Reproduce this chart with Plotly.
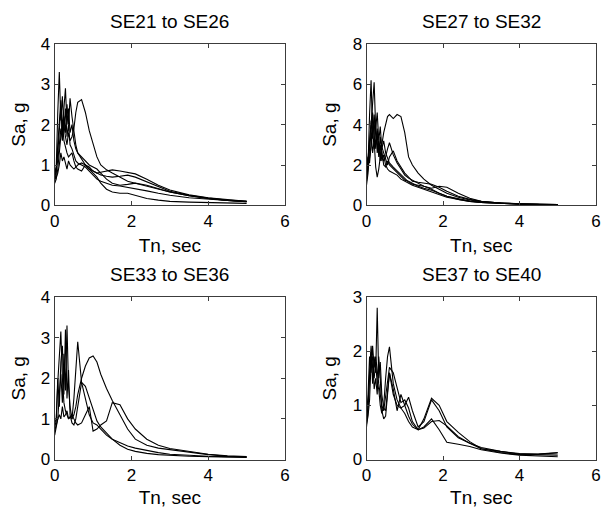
import plotly.graph_objects as go

# Periods (sec)
periods = [0.0, 0.04, 0.08, 0.12, 0.16, 0.2, 0.24, 0.28, 0.32, 0.36, 0.4, 0.45, 0.5, 0.55, 0.6,
           0.7, 0.8, 0.9, 1.0, 1.1, 1.2, 1.35, 1.5, 1.7, 1.9, 2.1, 2.4, 2.7, 3.0, 3.5, 4.0, 4.5, 5.0]

# SE21 to SE26
se21_26 = [
    [0.75, 0.95, 2.3, 3.3, 2.1, 2.7, 1.9, 2.4, 1.7, 2.0, 1.5, 1.4, 1.25, 1.1, 1.05, 1.0, 0.95, 0.85, 0.75, 0.65, 0.6, 0.55, 0.5, 0.48, 0.45, 0.42, 0.36, 0.3, 0.25, 0.19, 0.15, 0.12, 0.1],
    [0.6, 0.8, 1.5, 2.2, 2.6, 1.9, 2.5, 2.9, 2.0, 2.4, 1.8, 2.0, 1.6, 1.4, 1.3, 1.15, 1.0, 0.9, 0.85, 0.8, 0.75, 0.72, 0.7, 0.72, 0.75, 0.7, 0.58, 0.45, 0.35, 0.25, 0.18, 0.13, 0.1],
    [0.7, 0.85, 1.3, 1.9, 2.4, 1.7, 2.2, 1.8, 2.5, 2.0, 2.65, 2.2, 1.8, 1.5, 1.3, 1.2, 1.1, 1.0, 0.95, 0.9, 0.8, 0.65, 0.55, 0.5, 0.52, 0.55, 0.5, 0.42, 0.33, 0.24, 0.17, 0.12, 0.09],
    [0.8, 0.95, 1.1, 1.5, 1.9, 1.6, 2.0, 1.7, 1.5, 1.8, 1.6, 1.7, 1.9, 2.3, 2.55, 2.62, 2.3, 1.85, 1.5, 1.2, 1.0, 0.88, 0.8, 0.7, 0.6, 0.55, 0.48, 0.4, 0.33, 0.24, 0.17, 0.12, 0.09],
    [0.65, 0.7, 0.8, 1.0, 1.3, 1.1, 1.2, 1.0, 0.9, 1.1, 1.0, 0.95, 0.9, 0.95, 1.0, 1.05, 1.0, 0.9, 0.8, 0.7, 0.55, 0.4, 0.33, 0.3, 0.3, 0.25, 0.17, 0.13, 0.1, 0.08, 0.07, 0.06, 0.05],
    [0.55, 0.65, 0.9, 1.3, 1.7, 2.1, 1.6, 1.4, 1.3, 1.2, 1.25, 1.3, 1.1, 0.95, 0.9, 0.85, 1.0, 0.95, 0.85, 0.8, 0.82, 0.85, 0.88, 0.85, 0.82, 0.78, 0.65, 0.5, 0.38, 0.26, 0.19, 0.14, 0.1],
]

# SE27 to SE32
se27_32 = [
    [1.2, 2.0, 4.5, 6.2, 3.5, 4.2, 2.8, 3.6, 2.4, 3.0, 2.2, 2.5, 2.0, 1.8, 1.7, 1.6, 1.5, 1.3, 1.2, 1.1, 1.0, 0.9, 0.8, 0.65, 0.5, 0.4, 0.3, 0.2, 0.14, 0.09, 0.06, 0.04, 0.03],
    [1.5, 2.5, 3.2, 4.0, 5.2, 6.1, 3.8, 4.6, 3.2, 3.9, 2.8, 3.2, 2.6, 2.3, 2.1, 1.9, 1.7, 1.5, 1.3, 1.15, 1.05, 1.0, 0.95, 0.8, 0.6, 0.45, 0.32, 0.22, 0.15, 0.1, 0.07, 0.05, 0.04],
    [1.0, 1.6, 2.8, 3.6, 2.6, 3.2, 1.9, 1.4, 1.8, 2.5, 3.0, 3.6, 4.1, 4.4, 4.5, 4.3, 4.5, 4.4, 3.6, 2.4, 2.0, 1.6, 1.3, 1.0, 0.8, 0.6, 0.4, 0.27, 0.18, 0.11, 0.07, 0.05, 0.04],
    [1.8, 2.2, 3.0, 4.2, 3.3, 4.5, 3.6, 3.0, 2.6, 3.4, 2.5, 2.2, 2.4, 2.8, 3.1, 2.5, 2.1, 1.8, 1.5, 1.35, 1.25, 1.1, 0.95, 0.85, 0.95, 0.9, 0.6, 0.35, 0.2, 0.12, 0.08, 0.05, 0.04],
    [1.3, 1.8, 2.4, 2.9, 3.8, 2.8, 4.1, 2.6, 3.2, 2.2, 2.7, 2.0, 1.9, 2.2, 2.0, 1.8, 1.6, 1.4, 1.25, 1.2, 1.1, 0.95, 0.85, 0.75, 0.6, 0.45, 0.3, 0.2, 0.14, 0.09, 0.06, 0.04, 0.03],
    [2.0, 2.4, 2.1, 3.0, 4.6, 3.4, 3.0, 3.8, 2.9, 2.4, 2.9, 2.6, 2.3, 2.0, 2.4, 2.7, 2.2, 1.9, 1.6, 1.4, 1.2, 1.15, 1.1, 1.05, 0.9, 0.7, 0.45, 0.3, 0.2, 0.12, 0.08, 0.05, 0.04],
]

# SE33 to SE36
se33_36 = [
    [0.7, 0.9, 1.0, 1.6, 2.1, 1.4, 2.6, 1.7, 3.3, 1.8, 1.3, 1.0, 1.5, 2.2, 2.9, 1.9, 1.5, 1.1, 0.9, 0.85, 0.75, 0.6, 0.5, 0.42, 0.33, 0.28, 0.22, 0.17, 0.13, 0.1, 0.08, 0.07, 0.06],
    [0.8, 0.95, 1.9, 2.5, 3.15, 2.0, 1.4, 1.2, 1.1, 1.0, 1.05, 1.0, 1.1, 1.3, 1.6, 2.0, 2.3, 2.5, 2.55, 2.4, 2.1, 1.75, 1.45, 1.1, 0.75, 0.5, 0.35, 0.28, 0.24, 0.17, 0.12, 0.08, 0.06],
    [0.9, 1.0, 2.0, 1.3, 2.4, 2.8, 1.6, 3.2, 1.5, 2.2, 1.1, 0.9, 0.85, 1.0, 1.3, 1.9, 1.8, 1.5, 1.2, 0.95, 0.8, 0.65, 0.5, 0.35, 0.25, 0.2, 0.15, 0.12, 0.1, 0.08, 0.07, 0.06, 0.05],
    [0.6, 0.85, 1.0, 1.1, 1.0, 1.3, 1.05, 1.1, 1.2, 1.0, 1.05, 1.1, 1.0, 0.9, 0.85, 0.9, 1.1, 1.3, 0.7, 0.75, 0.85, 0.95, 1.4, 1.35, 1.0, 0.75, 0.5, 0.35, 0.27, 0.2, 0.13, 0.09, 0.07],
]

# SE37 to SE40
se37_40 = [
    [0.6, 0.9, 1.5, 2.0, 1.4, 1.9, 1.6, 2.8, 1.5, 1.8, 1.2, 0.95, 0.9, 1.3, 1.6, 1.2, 1.0, 0.95, 0.85, 0.7, 0.6, 0.55, 0.58, 0.7, 0.72, 0.62, 0.42, 0.3, 0.22, 0.15, 0.1, 0.1, 0.12],
    [0.7, 1.0, 1.6, 2.1, 1.7, 1.5, 1.8, 1.4, 1.3, 1.0, 0.85, 1.0, 1.5, 1.9, 2.08, 1.4, 1.1, 0.95, 1.0, 1.15, 0.9, 0.6, 0.7, 1.1, 0.9, 0.6, 0.4, 0.3, 0.2, 0.15, 0.11, 0.09, 0.08],
    [0.8, 1.2, 1.9, 1.6, 2.1, 1.7, 1.9, 1.6, 1.4, 1.2, 1.0, 0.9, 1.2, 1.5, 1.7, 1.6, 1.3, 1.05, 1.1, 0.95, 0.7, 0.55, 0.75, 1.13, 1.0, 0.7, 0.5, 0.33, 0.2, 0.13, 0.09, 0.1, 0.13],
    [0.65, 0.8, 1.1, 1.8, 1.9, 1.3, 1.5, 1.2, 1.9, 1.5, 0.9, 0.75, 0.8, 1.2, 1.6, 1.3, 0.9, 1.2, 1.0, 0.8, 0.65, 0.55, 0.6, 0.75, 0.55, 0.32, 0.28, 0.24, 0.18, 0.12, 0.08, 0.06, 0.05],
]

titles = ["SE21 to SE26", "SE27 to SE32", "SE33 to SE36", "SE37 to SE40"]
panels = [se21_26, se27_32, se33_36, se37_40]
y_max = [4, 8, 4, 3]
y_dtick = [1, 2, 1, 1]
x_ticks = [0, 2, 4, 6]
x_label = "Tn, sec"
y_label = "Sa, g"

W, H = 603, 508
FONT = "Liberation Sans, Arial, Helvetica, sans-serif"

# Panel frames in pixels: (left, right, top, bottom)
frames = [(54.7, 285.0, 43.8, 205.4), (366.5, 596.0, 43.8, 205.4),
          (54.7, 285.0, 297.0, 459.5), (366.5, 596.0, 297.0, 459.5)]

fig = go.Figure()
layout = dict(
    width=W, height=H, margin=dict(l=0, r=0, t=0, b=0),
    paper_bgcolor="white", plot_bgcolor="white", showlegend=False,
    template="none", font=dict(family=FONT, color="black", size=17),
)
annotations = []
for i, (curves, title) in enumerate(zip(panels, titles)):
    n = i + 1
    xa = "x" if n == 1 else f"x{n}"
    ya = "y" if n == 1 else f"y{n}"
    for c in curves:
        fig.add_trace(go.Scatter(x=periods, y=c, mode="lines", xaxis=xa, yaxis=ya,
                                 line=dict(color="black", width=1.1), hoverinfo="skip"))
    l, r, t, b = frames[i]
    common = dict(showline=True, linecolor="#3c3c3c", linewidth=1, mirror="ticks",
                  ticks="inside", ticklen=4, tickcolor="#3c3c3c", showgrid=False,
                  zeroline=False, tickfont=dict(family=FONT, size=17, color="black"),
                  fixedrange=True, ticklabeloverflow="allow")
    layout["xaxis" if n == 1 else f"xaxis{n}"] = dict(
        domain=[l / W, r / W], range=[0, 6], tickvals=x_ticks, anchor=ya,
        title=dict(text=x_label, font=dict(family=FONT, size=19, color="black"), standoff=8),
        **common)
    layout["yaxis" if n == 1 else f"yaxis{n}"] = dict(
        domain=[1 - b / H, 1 - t / H], range=[0, y_max[i]], dtick=y_dtick[i], tick0=0,
        anchor=xa, title=dict(text=y_label, font=dict(family=FONT, size=19, color="black"), standoff=10),
        **common)
    annotations.append(dict(text=title, xref="paper", yref="paper",
                            x=(l + r) / 2 / W, y=1 - (t - 22.3) / H,
                            xanchor="center", yanchor="middle", showarrow=False,
                            font=dict(family=FONT, size=19, color="black")))
layout["annotations"] = annotations
fig.update_layout(**layout)
fig.write_html("out.html", config={"displayModeBar": False},
               post_script="document.body.style.margin='0';")
